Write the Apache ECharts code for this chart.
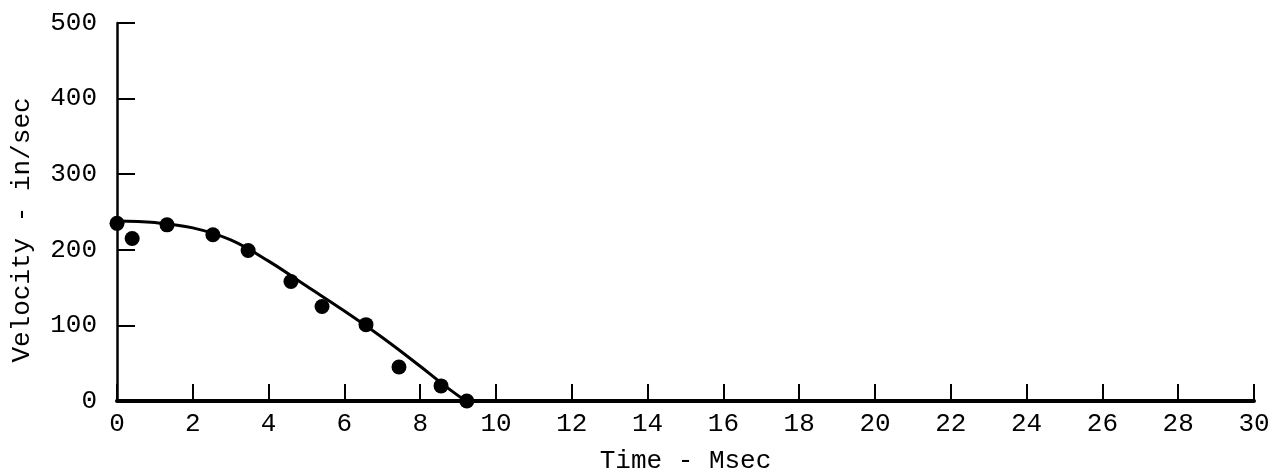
<!DOCTYPE html>
<html>
<head>
<meta charset="utf-8">
<script src="https://cdn.jsdelivr.net/npm/echarts@6/dist/echarts.min.js"></script>
<style>html,body{margin:0;padding:0;background:#fff}#c{width:1270px;height:474px}</style>
</head>
<body>
<div id="c"></div>
<script>
// Measured points (Time in msec, Velocity in in/sec)
var pointTime = [0, 0.40, 1.32, 2.53, 3.46, 4.59, 5.41, 6.57, 7.44, 8.55, 9.23];
var pointVel  = [235, 215, 233, 220, 199, 158, 125, 101, 45, 20, 0];
// Fitted curve
var curveTime = [0, 1, 2, 3, 4, 5, 6, 7, 8, 8.6, 9.2];
var curveVel  = [238, 236, 229, 213, 185, 152, 119, 84, 46, 22, 0];

var xTitle = 'Time - Msec';
var yTitle = 'Velocity - in/sec';

var font = 'Liberation Mono';
var chart = echarts.init(document.getElementById('c'), null, {renderer: 'canvas'});

function zip(a, b) { return a.map(function (v, i) { return [v, b[i]]; }); }

chart.setOption({
  backgroundColor: '#ffffff',
  animation: false,
  grid: {left: 117, right: 16, top: 23, bottom: 73, containLabel: false, outerBoundsMode: 'none'},
  xAxis: {
    type: 'value', min: 0, max: 30, interval: 2,
    name: xTitle, nameLocation: 'middle', nameGap: 47,
    nameTextStyle: {fontFamily: font, fontSize: 26, color: '#000'},
    axisLine: {show: true, onZero: false, lineStyle: {color: '#000', width: 4}},
    axisTick: {show: true, inside: true, length: 17, lineStyle: {color: '#000', width: 2}},
    axisLabel: {fontFamily: font, fontSize: 26, color: '#000', margin: 10},
    splitLine: {show: false}
  },
  yAxis: {
    type: 'value', min: 0, max: 500, interval: 100,
    name: yTitle, nameLocation: 'middle', nameGap: 82,
    nameTextStyle: {fontFamily: font, fontSize: 26, color: '#000', padding: [0, 36, 0, 0]},
    axisLine: {show: true, lineStyle: {color: '#000', width: 2.5}},
    axisTick: {show: true, inside: true, length: 18, lineStyle: {color: '#000', width: 2}},
    axisLabel: {fontFamily: font, fontSize: 26, color: '#000', margin: 20},
    splitLine: {show: false}
  },
  series: [
    {
      type: 'line', data: zip(curveTime, curveVel), smooth: 0.4,
      showSymbol: false, lineStyle: {color: '#000', width: 3}, z: 2
    },
    {
      type: 'scatter', data: zip(pointTime, pointVel), symbol: 'circle', symbolSize: 15,
      itemStyle: {color: '#000', opacity: 1}, z: 3
    }
  ]
});
</script>
</body>
</html>
